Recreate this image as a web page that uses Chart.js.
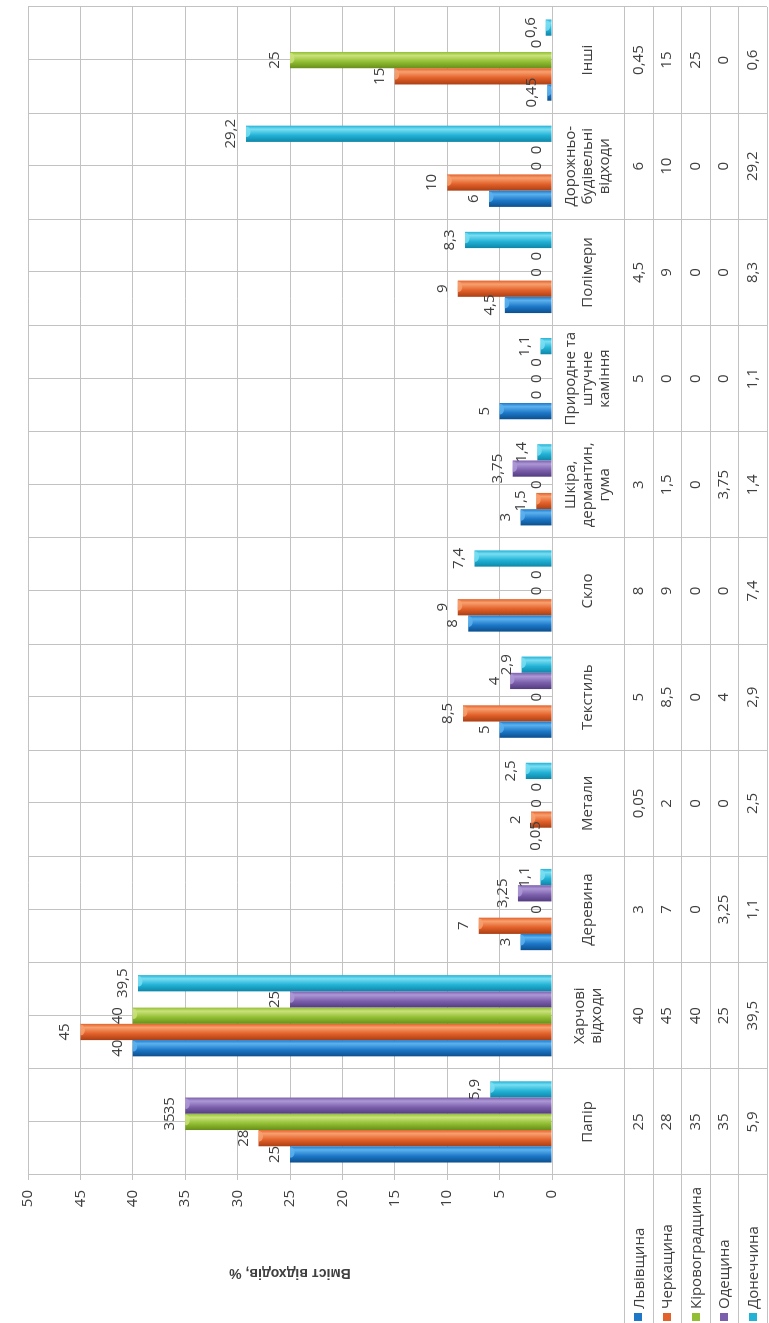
<!DOCTYPE html>
<html>
<head>
<meta charset="utf-8">
<script src="https://cdn.jsdelivr.net/npm/chart.js@4/dist/chart.umd.min.js"></script>
<style>
  html, body { margin: 0; padding: 0; background: #fff; overflow: hidden; width: 769px; height: 1323px; }
  #wrap { position: absolute; left: 0; top: 0; width: 1323px; height: 769px;
          transform-origin: 0 0; transform: translate(0, 1323px) rotate(-90deg); }
  canvas { display: block; }
</style>
</head>
<body>
<div id="wrap"><canvas id="chart" width="1323" height="769"></canvas></div>
<script>
// Waste categories (multi-line names for the data table)
const categories = [
  ['Папір'], ['Харчові', 'відходи'], ['Деревина'], ['Метали'], ['Текстиль'], ['Скло'],
  ['Шкіра,', 'дермантин,', 'гума'], ['Природне та', 'штучне', 'каміння'], ['Полімери'],
  ['Дорожньо-', 'будівельні', 'відходи'], ['Інші']
];
const regions = ['Львівщина', 'Черкащина', 'Кіровоградщина', 'Одещина', 'Донеччина'];

// Waste composition, % by region
const lvivValues       = [25, 40, 3, 0.05, 5, 8, 3, 5, 4.5, 6, 0.45];
const cherkasyValues   = [28, 45, 7, 2, 8.5, 9, 1.5, 0, 9, 10, 15];
const kirovohradValues = [35, 40, 0, 0, 0, 0, 0, 0, 0, 0, 25];
const odesaValues      = [35, 25, 3.25, 0, 4, 0, 3.75, 0, 0, 0, 0];
const donetskValues    = [5.9, 39.5, 1.1, 2.5, 2.9, 7.4, 1.4, 1.1, 8.3, 29.2, 0.6];
const seriesValues = [lvivValues, cherkasyValues, kirovohradValues, odesaValues, donetskValues];

// Value axis ticks
const valueTicks = [0, 5, 10, 15, 20, 25, 30, 35, 40, 45, 50];

// [dark edge, main, highlight] per region
const palette = [
  ['#0c4f8e', '#1d78c8', '#5cb2ee'],
  ['#aa3f14', '#e3612a', '#f7a06f'],
  ['#678f19', '#92be33', '#c9e27a'],
  ['#533c80', '#7c5fac', '#ad98d6'],
  ['#0e86a8', '#22b2d6', '#79def2']
];

const textFont = '"Open Sans", "Noto Sans", sans-serif';
const gridColor = '#c2c2c2';
const textColor = '#404040';
const CAT_PCT = 0.765;

const fmt = v => String(v).replace('.', ',');

// Cylinder-like shading across each bar's width
function barShade(c) {
  const chart = c.chart;
  const pal = palette[c.datasetIndex];
  const xs = chart.scales.x;
  if (!xs || !isFinite(xs.width) || xs.width <= 0) return pal[1];
  const catW = xs.width / categories.length;
  const groupW = catW * CAT_PCT;
  const barW = groupW / regions.length;
  const center = xs.getPixelForValue(c.dataIndex);
  const left = center - groupW / 2 + barW * c.datasetIndex;
  const g = chart.ctx.createLinearGradient(left, 0, left + barW, 0);
  g.addColorStop(0, pal[0]);
  g.addColorStop(0.4, pal[1]);
  g.addColorStop(0.78, pal[2]);
  g.addColorStop(1, pal[1]);
  return g;
}

// Half-category guide lines inside the plot
const centerLines = {
  id: 'centerLines',
  beforeDatasetsDraw(chart) {
    const { ctx, chartArea: a, scales: { x } } = chart;
    ctx.save();
    ctx.strokeStyle = gridColor;
    ctx.lineWidth = 1;
    categories.forEach((_, i) => {
      const px = Math.round(x.getPixelForValue(i)) + 0.5;
      ctx.beginPath(); ctx.moveTo(px, a.top); ctx.lineTo(px, a.bottom); ctx.stroke();
    });
    ctx.restore();
  }
};

// Light rounded end cap on each bar, then the value label above it
const valueLabels = {
  id: 'valueLabels',
  afterDatasetsDraw(chart) {
    const ctx = chart.ctx;
    ctx.save();
    chart.data.datasets.forEach((ds, di) => {
      const meta = chart.getDatasetMeta(di);
      meta.data.forEach((el, i) => {
        const h = el.base - el.y;
        if (h < 4) return;
        ctx.save();
        ctx.beginPath();
        ctx.rect(el.x - el.width / 2, el.y, el.width, h);
        ctx.clip();
        ctx.globalAlpha = 0.85;
        ctx.fillStyle = palette[di][2];
        ctx.beginPath();
        ctx.ellipse(el.x + el.width * 0.12, el.y + 1, el.width * 0.32, 3.5, 0, 0, Math.PI * 2);
        ctx.fill();
        ctx.restore();
      });
    });
    ctx.font = '15px ' + textFont;
    ctx.fillStyle = textColor;
    ctx.textAlign = 'center';
    ctx.textBaseline = 'alphabetic';
    chart.data.datasets.forEach((ds, di) => {
      const meta = chart.getDatasetMeta(di);
      meta.data.forEach((el, i) => {
        ctx.fillText(fmt(ds.data[i]), el.x, el.y - 11);
      });
    });
    ctx.restore();
  }
};

// Data table with legend keys under the plot
const dataTable = {
  id: 'dataTable',
  afterDraw(chart) {
    const { ctx, chartArea: a, scales: { x } } = chart;
    const rowTop = a.bottom + 72;
    const rowH = (chart.height - 2 - rowTop) / regions.length;
    ctx.save();
    ctx.strokeStyle = gridColor;
    ctx.lineWidth = 1;
    for (let k = 0; k <= regions.length; k++) {
      const y = Math.round(rowTop + k * rowH) + 0.5;
      ctx.beginPath(); ctx.moveTo(0, y); ctx.lineTo(a.right, y); ctx.stroke();
    }
    ctx.fillStyle = textColor;
    ctx.font = '15px ' + textFont;
    ctx.textAlign = 'center';
    ctx.textBaseline = 'middle';
    const nameY = (a.bottom + rowTop) / 2;
    categories.forEach((lines, i) => {
      const cx = x.getPixelForValue(i);
      lines.forEach((ln, j) => {
        ctx.fillText(ln, cx, nameY + (j - (lines.length - 1) / 2) * 17);
      });
      seriesValues.forEach((vals, s) => {
        ctx.fillText(fmt(vals[i]), cx, rowTop + rowH * (s + 0.5));
      });
    });
    ctx.textAlign = 'left';
    regions.forEach((name, s) => {
      const cy = rowTop + rowH * (s + 0.5);
      ctx.fillStyle = palette[s][1];
      ctx.fillRect(2, Math.round(cy - 4), 8, 8);
      ctx.fillStyle = textColor;
      ctx.fillText(name, 14, cy + 1);
    });
    ctx.restore();
  }
};

new Chart(document.getElementById('chart'), {
  type: 'bar',
  data: {
    labels: categories.map(c => c.join(' ')),
    datasets: regions.map((name, i) => ({
      label: name,
      data: seriesValues[i],
      backgroundColor: barShade,
      borderWidth: 0,
      barPercentage: 1,
      categoryPercentage: CAT_PCT
    }))
  },
  options: {
    responsive: false,
    animation: false,
    devicePixelRatio: 1,
    layout: { padding: { top: 28, right: 7, left: 0, bottom: 0 } },
    plugins: { legend: { display: false }, tooltip: { enabled: false } },
    scales: {
      x: {
        ticks: { display: false },
        grid: { offset: true, color: gridColor, drawTicks: true, tickLength: 215 },
        border: { display: false },
        afterFit(s) { s.height = 217; }
      },
      y: {
        min: 0,
        max: 50,
        afterBuildTicks(s) { s.ticks = valueTicks.map(v => ({ value: v })); },
        ticks: { color: textColor, font: { family: textFont, size: 15 }, padding: 10,
                 callback: v => fmt(v) },
        grid: { color: gridColor, tickLength: 5 },
        border: { color: gridColor },
        title: {
          display: true,
          text: 'Вміст відходів, %',
          color: textColor,
          font: { family: '"Liberation Sans", Arial, sans-serif', size: 14, weight: 'bold' },
          padding: { top: 42, bottom: 0 }
        },
        afterFit(s) { s.width = 148; }
      }
    }
  },
  plugins: [centerLines, valueLabels, dataTable]
});
</script>
</body>
</html>
